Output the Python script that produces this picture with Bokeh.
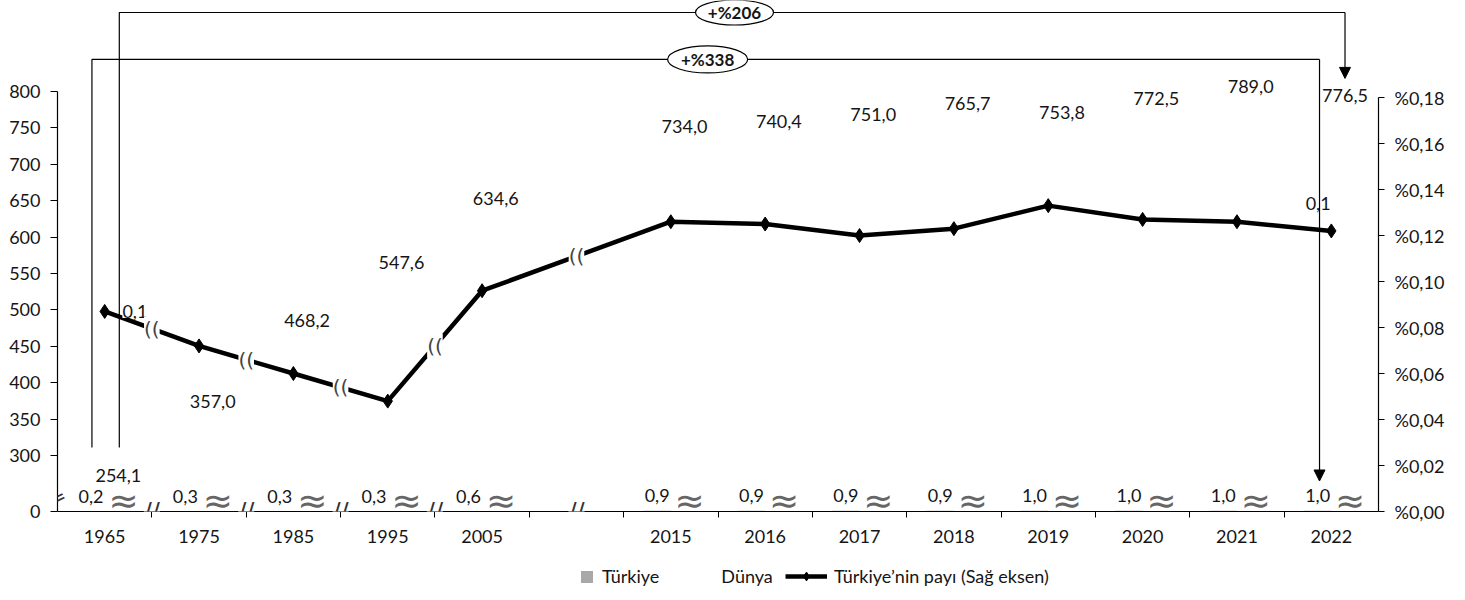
import numpy as np
from bokeh.plotting import figure
from bokeh.layouts import column
from bokeh.models import (Range1d, LinearAxis, FixedTicker, CustomJSTickFormatter,
                          Legend, LegendItem, Label, Arrow, NormalHead)
from bokeh.core.properties import value
from bokeh.embed import file_html
from bokeh.resources import INLINE

# ---------------- data ----------------
years = ["1965", "1975", "1985", "1995", "2005", "2015", "2016", "2017",
         "2018", "2019", "2020", "2021", "2022"]
turkiye = [0.2, 0.3, 0.3, 0.3, 0.6, 0.9, 0.9, 0.9, 0.9, 1.0, 1.0, 1.0, 1.0]
dunya = [254.1, 357.0, 468.2, 547.6, 634.6, 734.0, 740.4, 751.0, 765.7,
         753.8, 772.5, 789.0, 776.5]
pay = [0.087, 0.072, 0.060, 0.048, 0.096, 0.126, 0.125, 0.120, 0.123,
       0.133, 0.127, 0.126, 0.122]
left_ticks = [300, 350, 400, 450, 500, 550, 600, 650, 700, 750, 800]
right_ticks = [0.00, 0.02, 0.04, 0.06, 0.08, 0.10, 0.12, 0.14, 0.16, 0.18]
growth_labels = ["+%206", "+%338"]
legend_labels = ["Türkiye", "Dünya", "Türkiye’nin payı (Sağ eksen)"]

# ---------------- layout ----------------
FONT = value("Lato")
TXT = "#151515"
GREY = "#a8a8a8"
BASE = 223.1                      # left-axis value drawn at the baseline ("0")
GAP_AFTER = 5                     # an empty slot after 2005 (axis break)
xpos = [i if i < GAP_AFTER else i + 1 for i in range(len(years))]
DODGE = 0.145
BW = 0.29


def fmt(v):
    return f"{v:.1f}".replace(".", ",")


p = figure(width=1449, height=555, output_backend="svg", toolbar_location=None,
           x_range=Range1d(-0.5, 13.5), y_range=Range1d(BASE, 925.0),
           min_border_left=57, min_border_right=71, min_border_top=0,
           min_border_bottom=44)
p.extra_y_ranges = {"right": Range1d(0, 0.2222)}
p.outline_line_color = None
p.grid.visible = False

# axes
xa = p.xaxis[0]
xa.ticker = FixedTicker(ticks=xpos, minor_ticks=[k + 0.5 for k in range(13)])
xa.major_label_overrides = {xp: y for xp, y in zip(xpos, years)}
xa.major_tick_out = 6
xa.minor_tick_out = 6
xa.minor_tick_in = 0
xa.minor_tick_line_color = "black"
xa.major_label_standoff = 12
ya = p.yaxis[0]
ya.ticker = FixedTicker(ticks=[BASE] + left_ticks)
ya.formatter = CustomJSTickFormatter(code="return tick < 250 ? '0' : tick.toFixed(0);")
ya.bounds = (BASE, 800)
ya.minor_tick_line_color = None
ya.major_tick_out = 7
ya.major_tick_in = 0
ya.major_label_standoff = 10
ra = LinearAxis(y_range_name="right",
                ticker=FixedTicker(ticks=right_ticks),
                formatter=CustomJSTickFormatter(
                    code="return '%' + tick.toFixed(2).replace('.', ',');"),
                bounds=(0, 0.18))
ra.minor_tick_line_color = None
ra.major_tick_out = 6
ra.major_tick_in = 0
ra.major_label_standoff = 10
p.add_layout(ra, "right")
for ax in (xa, ya, ra):
    ax.axis_line_color = "black"
    ax.axis_line_width = 1.2
    ax.major_tick_line_color = "black"
    ax.major_label_text_font = "Lato"
    ax.major_label_text_font_size = "18px"
    ax.major_label_text_color = TXT
xa.major_tick_line_color = None

# bars
xd = [x + DODGE for x in xpos]
xt = [x - DODGE for x in xpos]
p.vbar(x=xd, top=dunya, bottom=BASE, width=BW, fill_color="white", line_color=None)
p.vbar(x=xt, top=[BASE + v for v in turkiye], bottom=BASE, width=BW,
       fill_color=GREY, line_color=None)

# brackets with growth labels
xw0, xw1 = xd[0] + 0.01, xd[-1]
xt0, xt1 = xt[0] + 0.01, xt[-1] + 0.02
Y_BOT, Y_TOP_W, Y_TOP_T = 311.0, 908.5, 844.0
p.line([xw0, xw0, xw1], [Y_BOT, Y_TOP_W, Y_TOP_W], line_color="black", line_width=1.2)
p.line([xt0, xt0, xt1], [Y_BOT, Y_TOP_T, Y_TOP_T], line_color="black", line_width=1.2)
p.add_layout(Arrow(end=NormalHead(size=11, fill_color="black", line_color="black"),
                   x_start=xw1, y_start=Y_TOP_W, x_end=xw1, y_end=818.0,
                   line_color="black", line_width=1.2))
p.add_layout(Arrow(end=NormalHead(size=11, fill_color="black", line_color="black"),
                   x_start=xt1, y_start=Y_TOP_T, x_end=xt1, y_end=265.0,
                   line_color="black", line_width=1.2))
p.ellipse(x=[6.675, 6.39], y=[Y_TOP_W, Y_TOP_T], width=[78, 80], height=[25, 27],
          width_units="screen", height_units="screen", fill_color="white",
          line_color="black", line_width=1.2)
p.text(x=[6.675, 6.39], y=[Y_TOP_W, Y_TOP_T], text=growth_labels, text_font=FONT,
       text_font_style="bold", text_font_size="17px", text_color=TXT,
       text_align="center", text_baseline="middle")

# line (right axis)
p.line(xpos, pay, y_range_name="right", line_color="black", line_width=4.5)
p.scatter(xpos, pay, y_range_name="right", marker="diamond", size=14,
          fill_color="black", line_color="black")

# data labels
p.text(x=xd, y=dunya, text=[fmt(v) for v in dunya], text_font=FONT,
       text_font_size="18px", text_color=TXT, text_align="center",
       text_baseline="middle", y_offset=-13)
p.text(x=xt, y=[BASE + v for v in turkiye], text=[fmt(v) for v in turkiye],
       text_font=FONT, text_font_size="18px", text_color=TXT, text_align="center",
       text_baseline="middle", y_offset=-15)
p.text(x=[x + 0.2 for x in xpos], y=[BASE] * len(xpos), text=["≈"] * len(xpos),
       text_font=value("DejaVu Sans"), text_font_size="36px", text_color="#666666",
       text_align="center", text_baseline="middle", y_offset=-11)
p.text(x=[xpos[0] + 0.32, xpos[-1] - 0.14], y=[pay[0], pay[-1]],
       text=[fmt(pay[0]), fmt(pay[-1])], y_range_name="right", text_font=FONT,
       text_font_size="18px", text_color=TXT, text_align="center",
       text_baseline="middle", y_offset=[0, -27], background_fill_color="white")

# break marks
breaks = [0.5, 1.5, 2.5, 3.5, float(GAP_AFTER)]
for bx in breaks:
    p.add_layout(Label(x=bx, y=BASE, text="//", text_font="DejaVu Sans",
                       text_font_size="24px", text_color="#333333",
                       text_align="center", text_baseline="middle",
                       background_fill_color="white"))
    by = float(np.interp(bx, xpos, pay))
    p.add_layout(Label(x=bx, y=by, y_range_name="right", text="((",
                       text_font="DejaVu Sans", text_font_size="20px",
                       text_color="#444444", text_align="center",
                       text_baseline="middle", background_fill_color="white"))
p.add_layout(Label(x=-0.5, y=242.0, text="=", angle=0.45, text_font="DejaVu Sans",
                   text_font_size="20px", text_color="#333333", text_align="center",
                   text_baseline="middle"))

# legend strip below the chart
p2 = figure(width=1449, height=35, output_backend="svg", toolbar_location=None,
            x_range=Range1d(0, 1), y_range=Range1d(0, 1), min_border=0,
            x_axis_location=None, y_axis_location=None)
p2.outline_line_color = None
p2.grid.visible = False
g_tr = p2.vbar(x=[5], top=[5], bottom=[4], width=0.1, fill_color=GREY, line_color=None)
g_dn = p2.vbar(x=[5], top=[5], bottom=[4], width=0.1, fill_color="white", line_color=None)
g_ln = p2.line([5, 6], [5, 5], line_color="black", line_width=4.5)
g_pt = p2.scatter([5], [5], marker="diamond", size=14, fill_color="black",
                  line_color="black")
leg1 = Legend(items=[LegendItem(label=legend_labels[0], renderers=[g_tr]),
                     LegendItem(label=legend_labels[1], renderers=[g_dn])],
              orientation="horizontal", location=(522, 3), glyph_width=15,
              glyph_height=15, spacing=39, label_standoff=8, padding=0, margin=0)
leg2 = Legend(items=[LegendItem(label=legend_labels[2], renderers=[g_ln, g_pt])],
              orientation="horizontal", location=(728, 3), glyph_width=42,
              glyph_height=22, label_standoff=7, padding=0, margin=0)
for lg in (leg1, leg2):
    lg.border_line_color = None
    lg.background_fill_alpha = 0
    lg.label_text_font = "Lato"
    lg.label_text_font_size = "18px"
    lg.label_text_color = TXT
    p2.add_layout(lg)

open("out.html", "w").write(file_html(column(p, p2), INLINE))
